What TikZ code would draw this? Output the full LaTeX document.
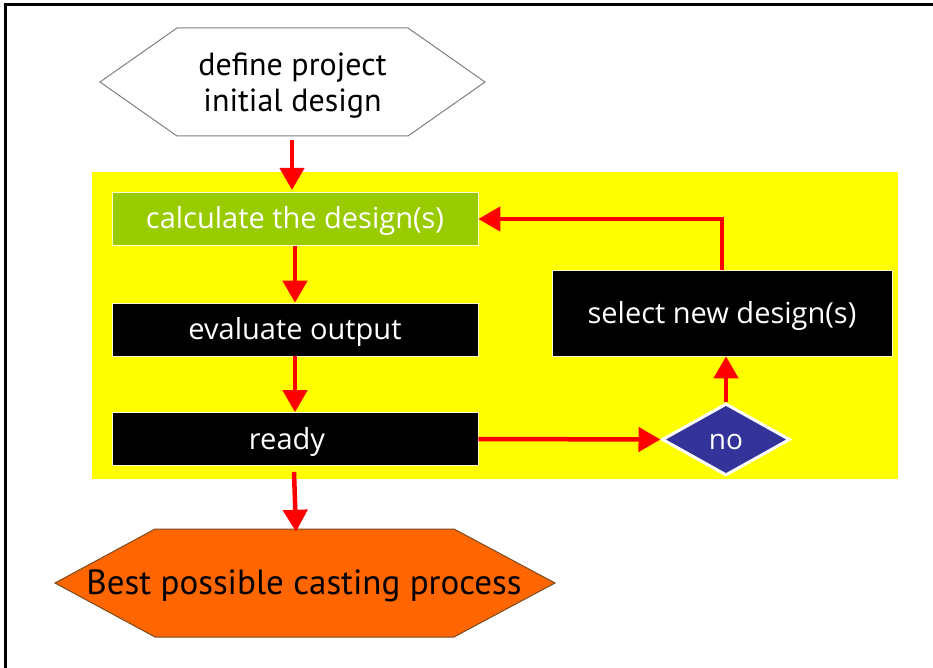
\documentclass[tikz,border=0pt]{standalone}
\usepackage{fontspec}
\setmainfont{Open Sans}
\newfontfamily\hexfont{PT Sans}
\usetikzlibrary{arrows.meta,shapes.geometric,calc}
\definecolor{boxyellow}{HTML}{FFFF00}
\definecolor{calcgreen}{HTML}{99CC00}
\definecolor{endorange}{HTML}{FF6600}
\definecolor{endbrown}{HTML}{7A4A20}
\definecolor{nodiamond}{HTML}{333399}
\definecolor{flowred}{HTML}{FF0000}
\tikzset{
  flow/.style={draw=flowred, line width=4.5pt, -{Triangle[length=22pt,width=24pt]}},
  stepbox/.style={fill=black, draw=white!80!yellow, line width=0.6pt, text=white,
    minimum width=366pt, minimum height=53pt, inner sep=0pt, text height=22pt, text depth=2pt,
    font=\fontsize{29}{34}\selectfont},
  hextext/.style={inner sep=0pt, align=center},
}
\begin{document}
\begin{tikzpicture}[x=1pt,y=-1pt]
\useasboundingbox (0,0) rectangle (933,668);
\fill[white] (0,0) rectangle (933,668);
% frame
\draw[line width=3pt] (933,5) -- (5,5) -- (5,668);
% yellow panel
\fill[boxyellow] (92,172) rectangle (898,479);
% top hexagon
\draw[fill=white, draw=gray, line width=1pt] (100,82) -- (177,28) -- (408,28) -- (485,82) -- (408,136) -- (177,136) -- cycle;
\node[hextext, minimum width=385pt, minimum height=108pt,
  font=\hexfont\fontsize{32}{36}\selectfont] (def) at (292.5,86) {define project\\initial design};
% bottom hexagon
\draw[fill=endorange, draw=endbrown, line width=1pt] (55,583) -- (155,529) -- (454,529) -- (555,583) -- (454,637) -- (155,637) -- cycle;
\node[hextext, minimum width=500pt, minimum height=108pt,
  font=\hexfont\fontsize{35}{40}\selectfont] (best) at (304,586) {Best possible casting process};
% boxes
\node[stepbox, fill=calcgreen] (calc) at (295,219) {calculate the design(s)};
\node[stepbox] (eval) at (295,329.5) {evaluate output};
\node[stepbox] (ready) at (295,439) {\hspace*{-16pt}ready};
\node[stepbox, minimum width=340pt, minimum height=86pt] (sel) at (722,313) {select new design(s)};
\node[diamond, fill=nodiamond, draw=white, line width=3pt, inner sep=0pt,
  minimum width=128pt, minimum height=72pt, text=white, text height=21pt, text depth=2pt,
  font=\fontsize{28}{30}\selectfont] (no) at (726,439.5) {no};
% connectors
\draw[flow] (def.south -| 292,0) -- (292,190);
\draw[flow] (calc.south) -- (eval.north);
\draw[flow] (eval.south) -- (ready.north);
\draw[flow] ($(ready.south)+(-1,6)$) -- ($(best.north)+(-8,0)$);
\draw[flow] (ready.east) -- (no.west);
\draw[flow] (no.north) -- (no.north |- sel.south);
\draw[flow] (sel.north) |- (calc.east);
\end{tikzpicture}
\end{document}
